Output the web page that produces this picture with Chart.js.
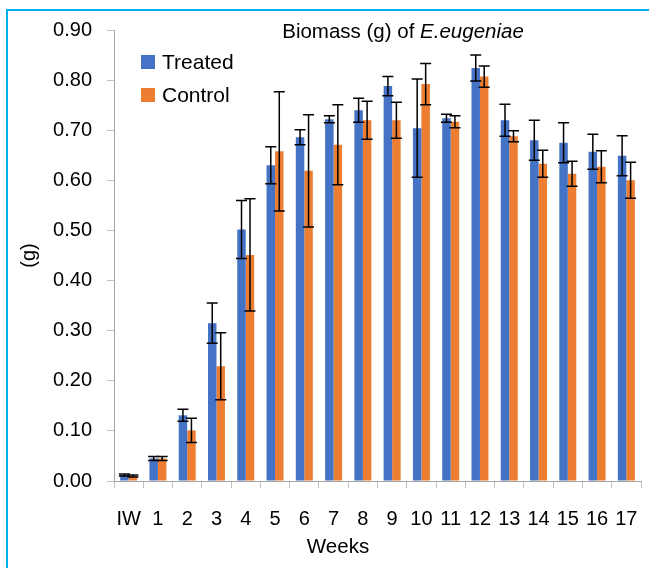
<!DOCTYPE html>
<html>
<head>
<meta charset="utf-8">
<script src="https://cdn.jsdelivr.net/npm/chart.js@4.4.0/dist/chart.umd.min.js"></script>
<style>
  body { margin: 0; background: #fff; }
  canvas { display: block; }
</style>
</head>
<body>
<canvas id="c" width="649" height="568"></canvas>
<script>
// Biomass (g) of E.eugeniae - treated vs control, weekly

const weeks = ['IW', '1', '2', '3', '4', '5', '6', '7', '8', '9', '10', '11', '12', '13', '14', '15', '16', '17'];

const treated = [0.012, 0.045, 0.131, 0.315, 0.502, 0.630, 0.686, 0.722, 0.740, 0.788, 0.704, 0.724, 0.824, 0.720, 0.680, 0.675, 0.657, 0.649];
const treatedErr = [0.002, 0.004, 0.012, 0.040, 0.058, 0.037, 0.015, 0.007, 0.024, 0.019, 0.098, 0.008, 0.026, 0.032, 0.040, 0.040, 0.035, 0.040];

const control = [0.010, 0.045, 0.101, 0.229, 0.451, 0.658, 0.619, 0.671, 0.720, 0.720, 0.792, 0.717, 0.807, 0.688, 0.633, 0.613, 0.627, 0.600];
const controlErr = [0.002, 0.004, 0.024, 0.067, 0.112, 0.119, 0.112, 0.080, 0.038, 0.036, 0.041, 0.012, 0.021, 0.011, 0.027, 0.025, 0.032, 0.036];

const yTicks = [0, 0.1, 0.2, 0.3, 0.4, 0.5, 0.6, 0.7, 0.8, 0.9];

const FONT = "'Liberation Sans', Arial, sans-serif";

// draw error bars on top of each bar
const errorBars = {
  id: 'errorBars',
  afterDatasetsDraw(chart) {
    const ctx = chart.ctx;
    const y = chart.scales.y;
    ctx.save();
    ctx.strokeStyle = '#000';
    ctx.lineWidth = 1.5;
    chart.data.datasets.forEach((ds, i) => {
      const meta = chart.getDatasetMeta(i);
      meta.data.forEach((bar, j) => {
        const v = ds.data[j], e = ds.errors[j];
        const top = y.getPixelForValue(v + e);
        const bot = y.getPixelForValue(v - e);
        ctx.beginPath();
        ctx.moveTo(bar.x, top); ctx.lineTo(bar.x, bot);
        ctx.moveTo(bar.x - 5.5, top); ctx.lineTo(bar.x + 5.5, top);
        ctx.moveTo(bar.x - 5.5, bot); ctx.lineTo(bar.x + 5.5, bot);
        ctx.stroke();
      });
    });
    ctx.restore();
  }
};

// frame, title, legend and x-axis title in Excel-like positions
const extras = {
  id: 'extras',
  beforeDraw(chart) {
    const ctx = chart.ctx;
    ctx.save();
    ctx.fillStyle = '#fff';
    ctx.fillRect(0, 0, chart.width, chart.height);
    ctx.fillStyle = '#00b0f0';
    ctx.fillRect(6, 9, chart.width - 6, 2);
    ctx.fillRect(6, 9, 2, chart.height - 9);
    ctx.restore();
  },
  afterDraw(chart) {
    const ctx = chart.ctx;
    ctx.save();
    ctx.fillStyle = '#000';
    ctx.textBaseline = 'middle';

    // title with italic species name
    const a = 'Biomass (g) of ', b = 'E.eugeniae';
    ctx.font = '20.5px ' + FONT;
    const wa = ctx.measureText(a).width;
    ctx.font = 'italic 20.5px ' + FONT;
    const wb = ctx.measureText(b).width;
    let x = 403 - (wa + wb) / 2;
    ctx.textAlign = 'left';
    ctx.font = '20.5px ' + FONT;
    ctx.fillText(a, x, 32);
    ctx.font = 'italic 20.5px ' + FONT;
    ctx.fillText(b, x + wa, 32);

    // legend
    ctx.font = '21px ' + FONT;
    chart.data.datasets.forEach((ds, i) => {
      const ly = 62 + i * 33;
      ctx.fillStyle = ds.backgroundColor;
      ctx.fillRect(141, ly - 7, 14, 14);
      ctx.fillStyle = '#000';
      ctx.fillText(ds.label, 162, ly + 1);
    });

    // x axis title
    ctx.textAlign = 'center';
    ctx.font = '20.5px ' + FONT;
    ctx.fillText('Weeks', 338, 547);
    ctx.restore();
  }
};

new Chart(document.getElementById('c'), {
  type: 'bar',
  data: {
    labels: weeks,
    datasets: [
      { label: 'Treated', data: treated, errors: treatedErr, backgroundColor: '#4472c4' },
      { label: 'Control', data: control, errors: controlErr, backgroundColor: '#ed7d31' },
    ],
  },
  options: {
    responsive: false,
    animation: false,
    categoryPercentage: 0.58,
    barPercentage: 1.0,
    layout: { padding: { left: 14, top: 30, right: 8, bottom: 0 } },
    plugins: {
      legend: { display: false },
      tooltip: { enabled: false },
    },
    scales: {
      x: {
        grid: { display: true, drawOnChartArea: false, tickLength: 7, color: '#bfbfbf' },
        border: { color: '#a6a6a6' },
        ticks: { font: { family: FONT, size: 20 }, color: '#000', padding: 19, maxRotation: 0, autoSkip: false },
        afterFit(scale) {
          scale.height = 87;
          scale.paddingLeft = 0;
          scale.paddingRight = 0;
        },
      },
      y: {
        min: 0,
        max: 0.9,
        afterBuildTicks(scale) { scale.ticks = yTicks.map(v => ({ value: v })); },
        grid: { display: true, drawOnChartArea: false, tickLength: 7, color: '#bfbfbf' },
        border: { color: '#a6a6a6' },
        ticks: {
          font: { family: FONT, size: 20 }, color: '#000', padding: 15,
          callback: v => Number(v).toFixed(2),
        },
        title: { display: true, text: '(g)', font: { family: FONT, size: 20 }, color: '#000', padding: { top: 3, bottom: 0 } },
        afterFit(scale) {
          scale.width = 100;
          scale.paddingTop = 0;
          scale.paddingBottom = 0;
        },
      },
    },
  },
  plugins: [errorBars, extras],
});
</script>
</body>
</html>
